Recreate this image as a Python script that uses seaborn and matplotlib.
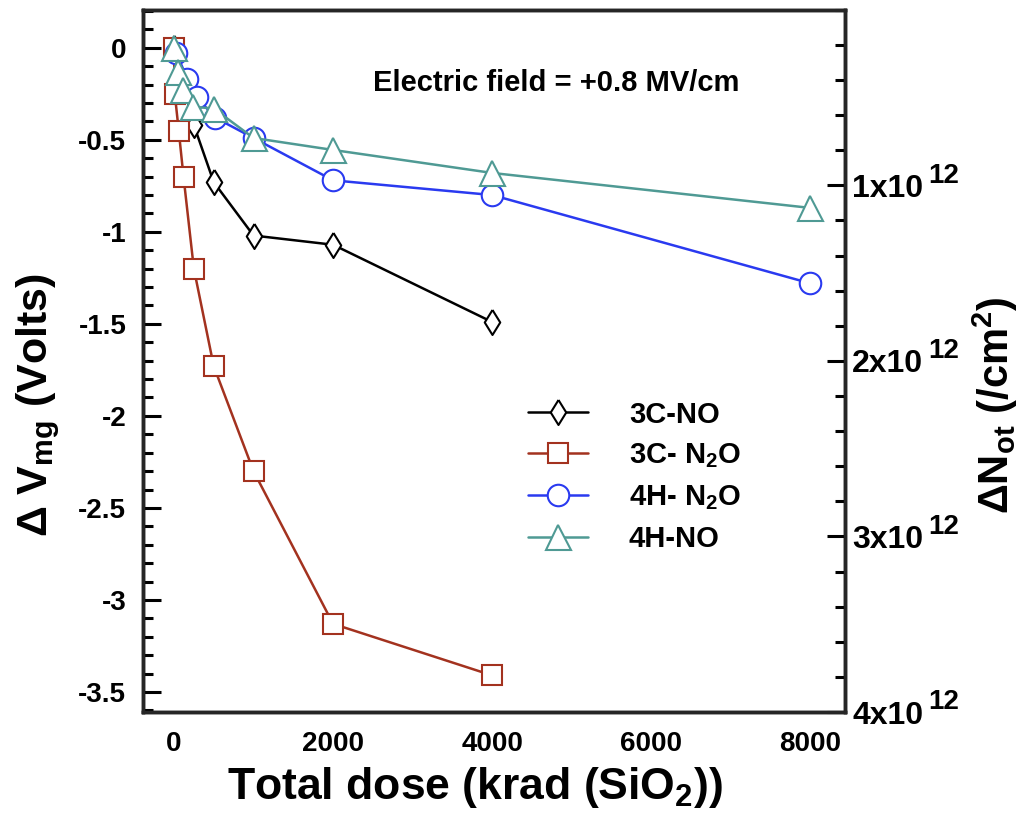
import matplotlib
matplotlib.use("Agg")
import matplotlib.pyplot as plt
import seaborn as sns
import pandas as pd
from matplotlib.ticker import MultipleLocator, FixedLocator, FormatStrFormatter

# values (dose in krad(SiO2), shift in volts)
dose_3c_no = [0, 250, 500, 1000, 2000, 4000]
vmg_3c_no = [0.0, -0.42, -0.73, -1.02, -1.07, -1.49]

dose_3c_n2o = [0, 10, 60, 120, 250, 500, 1000, 2000, 4000]
vmg_3c_n2o = [0.0, -0.25, -0.45, -0.70, -1.20, -1.73, -2.30, -3.13, -3.41]

dose_4h_n2o = [30, 170, 290, 520, 1000, 2000, 4000, 8000]
vmg_4h_n2o = [-0.03, -0.17, -0.27, -0.38, -0.49, -0.72, -0.80, -1.28]

dose_4h_no = [0, 50, 110, 240, 500, 1000, 2000, 4000, 8000]
vmg_4h_no = [0.0, -0.13, -0.23, -0.32, -0.33, -0.49, -0.555, -0.68, -0.87]

not_ticks = [1, 2, 3, 4]
not_labels = ["1x10", "2x10", "3x10", "4x10"]

sns.set_style("white")
plt.rcParams["font.family"] = ["Liberation Sans", "DejaVu Sans"]
plt.rcParams["font.weight"] = "bold"
plt.rcParams["mathtext.fontset"] = "custom"
plt.rcParams["mathtext.rm"] = "Liberation Sans:bold"
plt.rcParams["mathtext.it"] = "Liberation Sans:bold"
plt.rcParams["mathtext.bf"] = "Liberation Sans:bold"
plt.rcParams["mathtext.default"] = "bf"
plt.rcParams["axes.unicode_minus"] = False
for k in ["text.color", "axes.labelcolor", "xtick.color", "ytick.color"]:
    plt.rcParams[k] = "black"

fig = plt.figure(figsize=(10.21, 8.17), dpi=100)
ax = fig.add_axes([0.140, 0.1285, 0.688, 0.8595])

diamond = [(0, 1), (0.62, 0), (0, -1), (-0.62, 0), (0, 1)]
series = [
    ("3C-NO", dose_3c_no, vmg_3c_no, "black", diamond, 18),
    ("3C- N$_2$O", dose_3c_n2o, vmg_3c_n2o, "#a3321f", "s", 15),
    ("4H- N$_2$O", dose_4h_n2o, vmg_4h_n2o, "#2a3af0", "o", 15.5),
    ("4H-NO", dose_4h_no, vmg_4h_no, "#4f9a94", "^", 18),
]

for name, x, y, col, mk, ms in series:
    df = pd.DataFrame({"dose": x, "vmg": y})
    sns.lineplot(data=df, x="dose", y="vmg", ax=ax, color=col, lw=1.8,
                 marker=mk, markersize=ms, markerfacecolor="white",
                 markeredgecolor=col, markeredgewidth=1.5, label=name,
                 legend=False)

ax.set_xlim(-390, 8440)
ax.set_ylim(-3.609, 0.2065)
ax.xaxis.set_major_locator(MultipleLocator(2000))
ax.xaxis.set_minor_locator(MultipleLocator(500))
ax.yaxis.set_major_locator(MultipleLocator(0.5))
ax.yaxis.set_minor_locator(MultipleLocator(0.1))
ax.yaxis.set_major_formatter(FormatStrFormatter("%g"))
ax.tick_params(axis="both", which="major", direction="in", length=13, width=2.2,
               labelsize=20, pad=12)
ax.tick_params(axis="both", which="minor", direction="in", length=7, width=2.2)
ax.tick_params(axis="x", pad=14)
for sp in ax.spines.values():
    sp.set_linewidth(2.5)
    sp.set_color("black")

ax.set_xlabel("Total dose (krad (SiO$_2$))", fontsize=32, fontweight="bold")
ax.set_ylabel("Δ V$_{mg}$ (Volts)", fontsize=31, fontweight="bold")
ax.xaxis.set_label_coords(0.473, -0.075)
ax.yaxis.set_label_coords(-0.115, 0.437)

ax.text(4800, -0.19, "Electric field = +0.8 MV/cm", fontsize=21,
        fontweight="bold", ha="center", va="center")

# right axis: oxide trapped charge density
ax2 = ax.twinx()
ax2.set_ylim(4, 0)
ax2.yaxis.set_major_locator(FixedLocator(not_ticks))
ax2.set_yticklabels(not_labels)
ax2.yaxis.set_minor_locator(MultipleLocator(0.2))
ax2.tick_params(axis="y", which="major", direction="in", length=13, width=2.2,
                labelsize=23, pad=5)
ax2.tick_params(axis="y", which="minor", direction="in", length=7, width=2.2)
for sp in ax2.spines.values():
    sp.set_linewidth(2.5)
ax2.grid(False)
# exponent drawn at full size, as in the original figure
for v in not_ticks:
    ax2.annotate("12", xy=(1, v), xycoords=("axes fraction", "data"),
                 xytext=(60, 7), textcoords="offset points", fontsize=20,
                 fontweight="bold", ha="left", va="center")

ax2.set_ylabel("ΔN$_{ot}$ (/cm$^2$)", fontsize=30, fontweight="bold")
ax2.yaxis.set_label_coords(1.178, 0.437)

handles = ax.get_lines()
ax.legend(handles=handles, labels=[s[0] for s in series], loc="upper left",
          bbox_to_anchor=(0.511, 0.481), frameon=False, fontsize=21,
          handlelength=2.05, handletextpad=1.4, labelspacing=0.45)

fig.savefig("out.png", dpi=100)
